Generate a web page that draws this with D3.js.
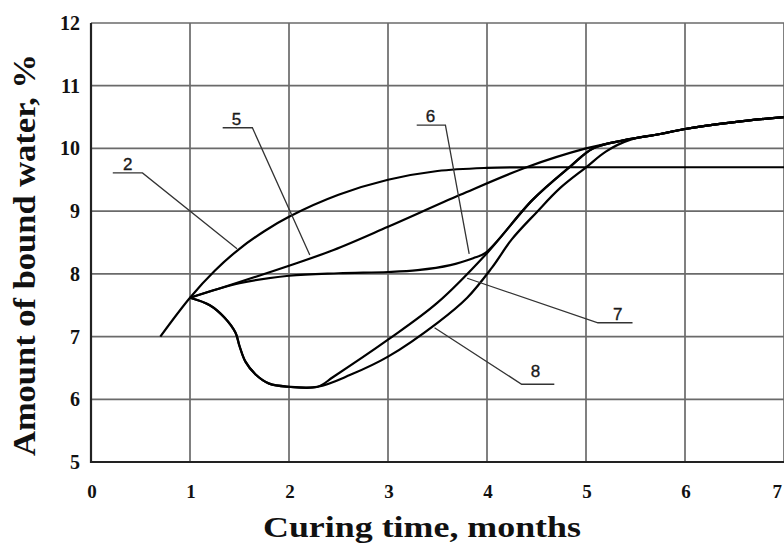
<!DOCTYPE html>
<html>
<head>
<meta charset="utf-8">
<style>
body { margin: 0; background: #fff; }
.grid line { stroke: #6a6a6a; stroke-width: 1.7px; }
.curve { fill: none; stroke: #000; stroke-width: 2.2px; stroke-linejoin: round; }
.leader { fill: none; stroke: #333; stroke-width: 1.3px; }
.tick { font-family: "Liberation Serif", "Times New Roman", serif; font-weight: bold; fill: #111; }
.title { font-family: "Liberation Serif", "Times New Roman", serif; font-weight: bold; fill: #111; }
.lab { font-family: "Liberation Sans", Arial, sans-serif; font-size: 17px; fill: #1a1a1a; stroke: #1a1a1a; stroke-width: 0.35px; }
</style>
<title></title></head>
<body>
<script src="https://cdn.jsdelivr.net/npm/d3@7"></script>
<script>

// ticks
var xTicks = [0, 1, 2, 3, 4, 5, 6, 7];
var yTicks = [5, 6, 7, 8, 9, 10, 11, 12];

// curve pieces, [months, %]
var curve2 = [[0.7, 7.0], [1.0, 7.62], [1.25, 8.05], [1.5, 8.4], [1.75, 8.68], [2.0, 8.91],
              [2.5, 9.26], [3.0, 9.5], [3.5, 9.64], [4.0, 9.69], [4.5, 9.7], [5.5, 9.7], [7.0, 9.7]];
var stem5 = [[1.0, 7.62], [1.5, 7.87], [2.0, 8.13], [2.45, 8.38], [3.0, 8.75], [3.73, 9.26],
             [4.4, 9.7], [5.0, 10.0]];
var stem6 = [[1.0, 7.62], [1.5, 7.85], [2.0, 7.97], [2.5, 8.01], [3.0, 8.03], [3.3, 8.06],
             [3.63, 8.14], [3.86, 8.25], [3.98, 8.33]];
var dip = [[1.0, 7.62], [1.2, 7.5], [1.35, 7.3], [1.46, 7.06], [1.5, 6.85], [1.56, 6.6],
           [1.66, 6.4], [1.8, 6.25], [2.0, 6.2], [2.29, 6.2]];
var rise7 = [[2.29, 6.2], [2.45, 6.36], [3.0, 6.95], [3.5, 7.54], [4.0, 8.33], [4.46, 9.18],
             [4.84, 9.71], [5.07, 10.0]];
var rise8 = [[2.29, 6.2], [2.62, 6.39], [3.0, 6.68], [3.5, 7.22], [3.8, 7.62], [4.05, 8.1],
             [4.25, 8.55], [4.5, 8.98], [4.74, 9.37], [5.01, 9.71], [5.2, 9.95], [5.45, 10.14]];
var tail = [[5.0, 10.0], [5.38, 10.13], [5.75, 10.23], [6.0, 10.31], [6.5, 10.42], [7.0, 10.5]];

// curve labels: name, text x, underline far x, near x, underline y, tip x, tip y
var labNames = ["2", "5", "6", "7", "8"];
var labTextX = [0.37, 1.47, 3.43, 5.32, 4.49];
var labFarX  = [0.22, 1.33, 3.29, 5.47, 4.68];
var labNearX = [0.52, 1.63, 3.58, 5.12, 4.35];
var labY     = [9.61, 10.33, 10.37, 7.22, 6.24];
var tipX     = [1.475, 2.21, 3.82, 3.80, 3.47];
var tipY     = [8.40, 8.30, 8.32, 7.93, 7.14];

var width = 784,
    height = 543;

var x = d3.scaleLinear().domain([0, 7]).range([91, 784]);
var y = d3.scaleLinear().domain([5, 12]).range([462, 23]);

var svg = d3.select("body").append("svg")
    .attr("width", width)
    .attr("height", height);

// grid
var grid = svg.append("g").attr("class", "grid");
grid.selectAll(".v").data(xTicks.slice(1)).enter().append("line")
    .attr("x1", function(d) { return x(d); })
    .attr("x2", function(d) { return x(d); })
    .attr("y1", y(12)).attr("y2", y(5));
grid.selectAll(".h").data(yTicks.slice(1)).enter().append("line")
    .attr("x1", x(0)).attr("x2", x(7))
    .attr("y1", function(d) { return y(d); })
    .attr("y2", function(d) { return y(d); });

// frame: left and bottom axis lines
svg.append("path")
    .attr("d", "M" + x(0) + "," + y(12) + "V" + y(5) + "H" + x(7))
    .attr("fill", "none")
    .attr("stroke", "#222")
    .attr("stroke-width", 2.2);

// tick labels
svg.selectAll(".ytl").data(yTicks).enter().append("text")
    .attr("class", "tick")
    .attr("x", 80)
    .attr("y", function(d) { return y(d) + 7; })
    .attr("text-anchor", "end")
    .style("font-size", "20px")
    .text(function(d) { return d; });

// last label sits at the right edge, keep it inside
svg.selectAll(".xtl").data(xTicks).enter().append("text")
    .attr("class", "tick")
    .attr("x", function(d) { return d == 7 ? x(d) - 2 : x(d) + 1; })
    .attr("y", 498)
    .attr("text-anchor", function(d) { return d == 7 ? "end" : "middle"; })
    .style("font-size", "19px")
    .text(function(d) { return d; });

// titles
svg.append("text")
    .attr("class", "title")
    .attr("x", 263)
    .attr("y", 537)
    .attr("textLength", 318)
    .attr("lengthAdjust", "spacingAndGlyphs")
    .style("font-size", "30px")
    .text("Curing time, months");

svg.append("text")
    .attr("class", "title")
    .attr("transform", "translate(35,456) rotate(-90)")
    .attr("textLength", 402)
    .attr("lengthAdjust", "spacingAndGlyphs")
    .style("font-size", "32px")
    .text("Amount of bound water, %");

// build whole curves from the pieces
function after(arr, x0) {
  return arr.filter(function(p) { return p[0] > x0; });
}
var c5 = stem5.concat(after(tail, 5.0));
var c6 = stem6.concat(after(rise7, 4.05), after(tail, 5.1));
var c7 = dip.concat(rise7.slice(1), after(tail, 5.1));
var c8 = dip.concat(rise8.slice(1), after(tail, 5.55));

var line = d3.line()
    .x(function(d) { return x(d[0]); })
    .y(function(d) { return y(d[1]); })
    .curve(d3.curveCatmullRom.alpha(0.5));

svg.selectAll(".curve").data([curve2, c5, c6, c7, c8]).enter().append("path")
    .attr("class", "curve")
    .attr("d", line);

// leaders and labels
var leaders = labNames.map(function(n, i) {
  return [[labFarX[i], labY[i]], [labNearX[i], labY[i]], [tipX[i], tipY[i]]];
});

svg.selectAll(".leader").data(leaders).enter().append("path")
    .attr("class", "leader")
    .attr("d", d3.line()
        .x(function(d) { return x(d[0]); })
        .y(function(d) { return y(d[1]); }));

svg.selectAll(".lab").data(labNames).enter().append("text")
    .attr("class", "lab")
    .attr("x", function(d, i) { return x(labTextX[i]); })
    .attr("y", function(d, i) { return y(labY[i]) - (d == "8" ? 7 : 3); })
    .attr("text-anchor", "middle")
    .text(function(d) { return d; });

</script>
</body>
</html>
